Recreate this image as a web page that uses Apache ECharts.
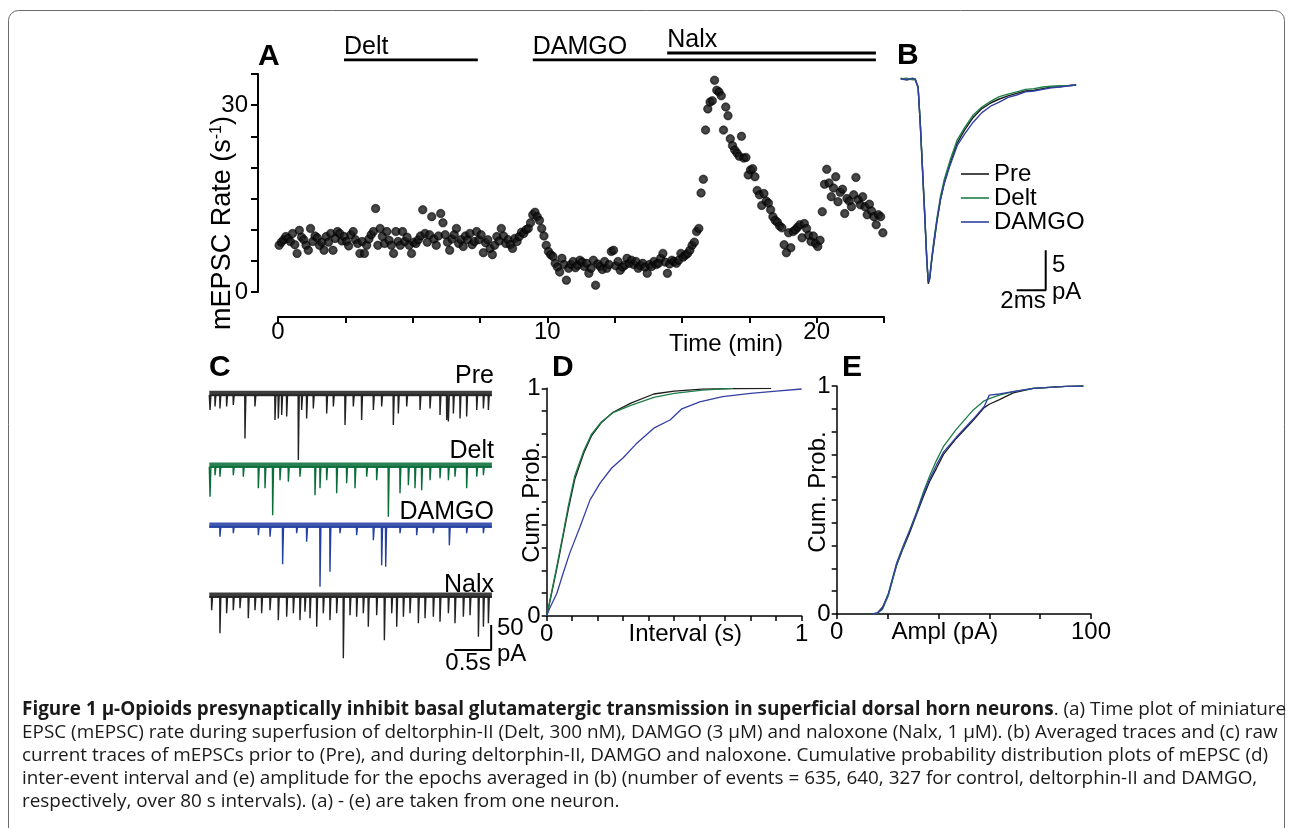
<!DOCTYPE html>
<html><head><meta charset="utf-8">
<script src="https://cdn.jsdelivr.net/npm/echarts@6/dist/echarts.min.js"></script>
<style>html,body{margin:0;padding:0;background:#fff}#c{width:1290px;height:828px}</style>
</head><body><div id="c"></div>
<script>
// ---------------- DATA ----------------
// Panel A: mEPSC rate (s^-1) in consecutive 5 s bins
const rateBinSeconds = 5;
const rates = [
 7.5,8.0,8.4,8.9,8.6,8.1,9.4,7.6,6.2,9.9,
 8.8,8.4,7.5,6.7,10.2,8.1,9.0,8.7,7.5,8.0,
 6.7,8.9,8.0,9.4,6.7,8.6,9.7,9.4,8.2,8.9,
 8.1,7.4,9.2,9.7,8.4,7.8,6.2,8.1,6.2,7.5,
 8.5,9.2,9.7,13.4,7.5,10.2,8.9,7.8,9.7,8.3,
 7.5,6.2,9.7,8.1,7.5,9.7,8.1,8.8,7.5,6.2,
 8.0,7.8,8.4,9.0,13.2,9.4,8.0,9.2,12.1,8.5,
 7.5,9.0,12.6,11.1,9.2,8.0,6.7,8.5,9.2,10.2,
 7.8,8.4,7.3,9.0,8.4,9.4,7.6,8.1,9.7,8.4,
 9.2,6.3,7.9,8.4,7.0,6.0,7.5,8.9,8.2,10.2,
 9.0,7.8,8.4,7.6,7.0,8.6,8.1,8.9,9.6,9.4,
 10.0,10.2,11.1,12.4,12.8,12.1,11.5,10.2,9.0,7.5,
 6.5,6.0,5.7,4.6,4.0,3.2,5.4,4.4,1.9,3.8,
 4.4,4.9,3.9,4.3,5.1,4.8,4.1,4.6,3.0,3.8,
 5.1,1.1,4.5,4.1,3.6,4.9,3.8,4.4,6.5,6.7,
 4.2,4.9,3.5,4.0,4.3,5.4,4.6,5.1,4.4,4.9,
 3.8,4.2,4.6,4.0,3.0,4.4,4.1,4.9,4.4,4.6,
 5.4,6.2,4.8,3.0,4.5,5.1,4.9,4.6,5.1,6.2,
 5.6,5.9,6.2,6.7,7.5,8.0,9.7,10.2,15.9,18.1,
 26.0,29.4,30.5,30.7,34.0,32.4,32.1,31.5,26.0,29.7,
 28.3,24.6,23.5,22.8,22.3,21.8,25.0,21.5,21.6,18.8,
 19.6,19.8,18.5,16.3,15.6,13.9,15.8,14.6,14.3,13.2,
 12.1,11.5,11.2,10.6,10.3,7.6,6.3,9.5,7.1,9.7,
 10.0,10.4,10.8,8.7,11.0,10.2,9.1,8.1,9.0,7.8,
 7.3,8.3,12.9,17.3,19.7,17.5,15.3,16.7,18.5,14.5,
 16.0,16.5,12.6,15.0,14.6,13.7,15.6,18.4,14.8,14.0,
 15.3,13.7,12.4,14.1,13.0,12.1,10.8,12.4,12.1,9.5
];
const drugNames = ['Delt', 'DAMGO', 'Nalx'];
const drugStartMin = [2.45, 9.46, 14.45];
const drugEndMin = [7.42, 22.2, 22.2];
const drugRow = [0, 0, 1];
const timeTickLabelsA = [0, 10, 20];
const rateTickLabelsA = [0, 30];

// Panel B: averaged mEPSC (ms, pA)
const avgTimeMs = [0,0.4,0.8,1.0,1.1,1.2,1.35,1.5,1.65,1.8,1.9,2.0,2.15,2.3,2.5,2.75,3.0,3.4,3.9,4.4,5.0,5.6,6.2,6.8,7.4,8.0,8.6,9.2,9.8,10.4,11.0,11.6,12.1];
const avgPre   = [0.1,-0.1,0.0,-0.1,-0.2,-1.0,-5.5,-11.0,-16.5,-22.5,-25.6,-25.0,-22.5,-20.5,-17.8,-15.0,-13.0,-10.6,-8.0,-6.4,-4.8,-3.7,-3.0,-2.5,-2.1,-1.8,-1.5,-1.4,-1.2,-1.0,-0.95,-0.85,-0.75];
const avgDelt  = [0.0,0.1,-0.1,0.0,-0.2,-1.0,-5.6,-11.2,-16.8,-22.6,-25.3,-24.8,-22.2,-20.0,-17.4,-14.6,-12.6,-10.2,-7.6,-6.1,-4.5,-3.5,-2.8,-2.2,-1.9,-1.6,-1.3,-1.2,-1.0,-0.9,-0.85,-0.8,-0.7];
const avgDamgo = [0.0,-0.1,0.1,0.0,-0.2,-1.1,-5.7,-11.3,-16.9,-22.7,-25.3,-24.9,-22.4,-20.3,-17.7,-15.0,-13.1,-10.8,-8.3,-6.9,-5.4,-4.2,-3.4,-2.9,-2.3,-2.0,-1.6,-1.5,-1.3,-1.1,-1.0,-0.85,-0.75];
const legendNames = ['Pre', 'Delt', 'DAMGO'];

// Panel C: raw traces, events (time s, amplitude pA)
const traceDurS = 3.85;
const cNames = ['Pre', 'Delt', 'DAMGO', 'Nalx'];
const preEvT = [0.01,0.078,0.145,0.236,0.327,0.486,0.622,0.895,0.94,0.986,1.054,1.213,1.258,1.326,1.417,1.599,1.69,1.849,1.962,2.075,2.235,2.348,2.507,2.575,2.689,2.871,3.007,3.143,3.234,3.257,3.325,3.416,3.506,3.643,3.734,3.802];
const preEvA = [30,23,27,23,20,87,23,50,47,40,43,130,30,47,27,37,23,60,23,50,30,23,60,37,23,30,27,40,50,53,37,47,43,30,27,30];
const deltEvT = [0.01,0.078,0.145,0.327,0.463,0.668,0.759,0.863,0.963,1.077,1.235,1.44,1.508,1.599,1.735,1.871,1.985,2.144,2.28,2.439,2.598,2.712,2.802,2.893,3.007,3.143,3.257,3.347,3.506,3.643,3.734];
const deltEvA = [60,17,20,17,20,43,43,97,27,30,20,57,43,27,53,33,43,20,27,100,53,37,43,47,27,23,27,20,43,20,17];
const damgoEvT = [0.145,0.327,0.668,0.827,0.999,1.19,1.326,1.508,1.644,1.78,2.007,2.235,2.348,2.403,2.598,2.825,3.052,3.27,3.506,3.734];
const damgoEvA = [20,13,17,20,75,13,30,120,90,13,17,27,77,80,13,17,13,37,13,13];
const nalxEvT = [0.032,0.145,0.236,0.327,0.418,0.531,0.622,0.713,0.827,0.94,1.054,1.145,1.235,1.303,1.372,1.463,1.553,1.644,1.735,1.826,1.917,2.007,2.098,2.166,2.28,2.385,2.485,2.553,2.644,2.734,2.848,2.939,3.052,3.143,3.257,3.347,3.461,3.552,3.666,3.734,3.802];
const nalxEvA = [27,73,33,27,23,43,27,33,27,47,40,33,47,30,43,60,33,47,33,123,37,40,33,60,37,87,33,60,40,33,53,43,40,50,33,53,40,37,80,60,53];

// Panel D: cumulative probability of inter-event interval (s)
const intPreX   = [0,0.01,0.04,0.065,0.085,0.11,0.145,0.175,0.215,0.26,0.33,0.42,0.5,0.61,0.73,0.88];
const intPreY   = [0,0.05,0.21,0.355,0.47,0.60,0.715,0.79,0.85,0.895,0.935,0.975,0.988,0.996,0.999,1.0];
const intDeltX  = [0,0.01,0.04,0.065,0.085,0.11,0.145,0.175,0.215,0.26,0.33,0.42,0.5,0.61,0.73];
const intDeltY  = [0,0.055,0.22,0.365,0.485,0.615,0.725,0.797,0.853,0.893,0.925,0.96,0.978,0.992,1.0];
const intDamgoX = [0,0.01,0.04,0.065,0.09,0.13,0.17,0.21,0.255,0.30,0.35,0.42,0.485,0.53,0.60,0.69,0.80,0.90,1.0];
const intDamgoY = [0,0.03,0.10,0.19,0.275,0.39,0.51,0.585,0.65,0.695,0.755,0.825,0.862,0.91,0.94,0.963,0.978,0.988,0.997];

// Panel E: cumulative probability of amplitude (pA)
const amplX     = [14,16,18,20.3,23.6,26.2,28.8,31.5,34.1,36.7,39.3,42,47,53.7,58,60,64,69.4,77.3,90,97];
const amplPre   = [0,0.005,0.03,0.085,0.215,0.29,0.36,0.44,0.515,0.585,0.64,0.70,0.77,0.85,0.905,0.92,0.94,0.97,0.99,0.998,1.0];
const amplDelt  = [0,0.003,0.02,0.08,0.22,0.295,0.37,0.45,0.535,0.61,0.675,0.735,0.81,0.895,0.935,0.945,0.96,0.975,0.99,0.998,1.0];
const amplDamgo = [0,0.004,0.025,0.09,0.225,0.30,0.37,0.445,0.525,0.595,0.655,0.71,0.775,0.855,0.91,0.96,0.965,0.975,0.99,0.998,1.0];

// Caption
const captionBold = 'Figure 1 μ-Opioids presynaptically inhibit basal glutamatergic transmission in superficial dorsal horn neurons';
const captionLines = [
 '. (a) Time plot of miniature',
 'EPSC (mEPSC) rate during superfusion of deltorphin-II (Delt, 300 nM), DAMGO (3 μM) and naloxone (Nalx, 1 μM). (b) Averaged traces and (c) raw',
 'current traces of mEPSCs prior to (Pre), and during deltorphin-II, DAMGO and naloxone. Cumulative probability distribution plots of mEPSC (d)',
 'inter-event interval and (e) amplitude for the epochs averaged in (b) (number of events = 635, 640, 327 for control, deltorphin-II and DAMGO,',
 'respectively, over 80 s intervals). (a) - (e) are taken from one neuron.'
];

// ---------------- STYLE / BUILD ----------------
const FONT = '"Liberation Sans", Arial, Helvetica, sans-serif';
const CAPFONT = '"Open Sans", "Noto Sans", sans-serif';
const BLACK = '#1c1c1c', GREEN = '#1e7f47', BLUE = '#3340a2';
const cColors = ['#222', '#0b6e3a', '#2440a0', '#222'];

const pairs = (xs, ys) => xs.map((x, i) => [x, ys[i]]);
const timeMinA = rates.map((_, i) => (i + 0.5) * rateBinSeconds / 60);

function spikeTrace(evT, evA, dur) {
  const pts = [[0, 0]];
  evT.forEach((t, i) => { pts.push([t - 0.003, 0], [t, -evA[i]], [t + 0.012, 0]); });
  pts.push([dur, 0]);
  return pts;
}

const txt = (size, extra) => Object.assign({fontSize: size, fontFamily: FONT, color: '#000'}, extra || {});

function visAxis(o) {
  const lw = o.lw || 1.5;
  return Object.assign({
    type: 'value', gridIndex: o.grid, min: o.min, max: o.max, interval: o.interval,
    nameMoveOverlap: false,
    axisLine: {show: true, onZero: false, lineStyle: {color: '#000', width: lw}},
    axisTick: {show: true, length: o.tick || 5, inside: false, lineStyle: {color: '#000', width: lw}},
    axisLabel: Object.assign({show: true, margin: o.margin == null ? 5 : o.margin,
      formatter: v => (o.labels.some(l => Math.abs(l - v) < 1e-9) ? String(v) : '')}, txt(24)),
    splitLine: {show: false}
  }, o.extra || {});
}
const hidAxis = (grid, min, max) => ({type: 'value', gridIndex: grid, min, max, show: false, splitLine: {show: false}});

const grids = [
  {left: 278, top: 74, width: 606, height: 218},      // 0 A
  {left: 278, top: 46, width: 606, height: 14},       // 1 A drug bars
  {left: 900.7, top: 71, width: 188.5, height: 232},  // 2 B
  {left: 209.3, top: 385, width: 282.6, height: 140}, // 3 C Pre
  {left: 209.3, top: 456.7, width: 282.6, height: 140},// 4 C Delt
  {left: 209.3, top: 516.7, width: 282.6, height: 140},// 5 C DAMGO
  {left: 209.3, top: 586.7, width: 282.6, height: 140},// 6 C Nalx
  {left: 546.7, top: 388.3, width: 255, height: 227.7},// 7 D
  {left: 836.7, top: 386, width: 254.3, height: 228}   // 8 E
].map(g => Object.assign({outerBoundsMode: 'none', containLabel: false}, g));

const xAxes = [
  visAxis({grid: 0, min: 0, max: 22.5, interval: 2.5, labels: timeTickLabelsA, lw: 2, tick: 6, margin: 3, extra: {offset: 25}}),
  hidAxis(1, 0, 22.5),
  hidAxis(2, 0, 13),
  hidAxis(3, 0, traceDurS), hidAxis(4, 0, traceDurS), hidAxis(5, 0, traceDurS), hidAxis(6, 0, traceDurS),
  visAxis({grid: 7, min: 0, max: 1, interval: 0.1, labels: [0, 1], margin: 6, extra: {
    name: 'Interval (s)', nameLocation: 'middle', nameGap: 6,
    nameTextStyle: txt(24, {verticalAlign: 'top', padding: [0, 0, 0, 22]})}}),
  visAxis({grid: 8, min: 0, max: 100, interval: 20, labels: [0, 100], margin: 6, extra: {
    name: 'Ampl (pA)', nameLocation: 'middle', nameGap: 6,
    nameTextStyle: txt(24, {verticalAlign: 'top', padding: [0, 38, 0, 0]})}})
];
const yAxes = [
  visAxis({grid: 0, min: 0, max: 35, interval: 5, labels: rateTickLabelsA, lw: 2, tick: 7, margin: 10, extra: {
    offset: 20, name: '{a|mEPSC Rate (s}{s|-1}{a|)}', nameLocation: 'middle', nameGap: 22, nameRotate: 90,
    nameTextStyle: txt(27, {padding: [0, 80, 0, 0], rich: {a: txt(27), s: txt(16, {verticalAlign: 'top'})}})}}),
  hidAxis(1, 0, 2),
  hidAxis(2, -28, 1),
  hidAxis(3, -260, 20), hidAxis(4, -260, 20), hidAxis(5, -260, 20), hidAxis(6, -260, 20),
  visAxis({grid: 7, min: 0, max: 1, interval: 0.1, labels: [0, 1], margin: 6, extra: {
    name: 'Cum. Prob.', nameLocation: 'middle', nameGap: 2, nameRotate: 90, nameTextStyle: txt(24)}}),
  visAxis({grid: 8, min: 0, max: 1, interval: 0.1, labels: [0, 1], margin: 6, extra: {
    name: 'Cum. Prob.', nameLocation: 'middle', nameGap: 6, nameRotate: 90, nameTextStyle: txt(24, {padding: [0, 0, 0, 16]})}})
];

const series = [];
// A scatter
series.push({
  type: 'scatter', xAxisIndex: 0, yAxisIndex: 0, symbolSize: 8.5,
  data: rates.map((v, i) => [timeMinA[i], v]),
  itemStyle: {color: new echarts.graphic.RadialGradient(0.5, 0.5, 0.5, [{offset: 0, color: '#262626'}, {offset: 1, color: '#000'}]), borderColor: '#000', borderWidth: 0.6}
});
// A drug bars
drugNames.forEach((n, k) => {
  series.push({
    type: 'line', name: 'bar-' + n, xAxisIndex: 1, yAxisIndex: 1, symbol: 'circle', symbolSize: 0, showSymbol: true,
    itemStyle: {color: 'rgba(0,0,0,0)'}, lineStyle: {color: '#000', width: 3},
    label: {show: false},
    data: [{value: [drugStartMin[k], drugRow[k]], label: Object.assign({show: true, position: [0, -25], align: 'left', verticalAlign: 'top', formatter: n}, txt(25))},
           [drugEndMin[k], drugRow[k]]]
  });
});
// B averaged traces
[[avgPre, BLACK], [avgDelt, GREEN], [avgDamgo, BLUE]].forEach(([arr, col], k) => {
  series.push({type: 'line', name: legendNames[k], xAxisIndex: 2, yAxisIndex: 2, symbol: 'none',
    lineStyle: {color: col, width: 1.4}, itemStyle: {color: col}, data: pairs(avgTimeMs, arr)});
});
series.push({type: 'line', name: 'scaleB', xAxisIndex: 2, yAxisIndex: 2, symbol: 'none',
  lineStyle: {color: '#000', width: 2}, data: [[8.0, -26.4], [10.0, -26.4], [10.0, -21.4]]});
// C raw traces
[[preEvT, preEvA], [deltEvT, deltEvA], [damgoEvT, damgoEvA], [nalxEvT, nalxEvA]].forEach(([t, a], k) => {
  series.push({type: 'line', name: 'band-' + k, xAxisIndex: 3 + k, yAxisIndex: 3 + k, symbol: 'none',
    lineStyle: {color: cColors[k], width: 5.5, opacity: 0.88}, data: [[0, 3], [traceDurS, 3]]});
  series.push({type: 'line', name: 'trace-' + k, xAxisIndex: 3 + k, yAxisIndex: 3 + k, symbol: 'none',
    lineStyle: {color: cColors[k], width: 1.4}, data: spikeTrace(t, a, traceDurS)});
});
series.push({type: 'line', name: 'scaleC', xAxisIndex: 6, yAxisIndex: 6, symbol: 'none',
  lineStyle: {color: '#000', width: 2}, data: [[3.34, -106.6], [3.84, -106.6], [3.84, -56.6]]});
// D
[[intPreX, intPreY, BLACK], [intDeltX, intDeltY, GREEN], [intDamgoX, intDamgoY, BLUE]].forEach(([x, y, c]) => {
  series.push({type: 'line', xAxisIndex: 7, yAxisIndex: 7, symbol: 'none', lineStyle: {color: c, width: 1.3}, data: pairs(x, y)});
});
// E
[[amplPre, BLACK], [amplDelt, GREEN], [amplDamgo, BLUE]].forEach(([y, c]) => {
  series.push({type: 'line', xAxisIndex: 8, yAxisIndex: 8, symbol: 'none', lineStyle: {color: c, width: 1.3}, data: pairs(amplX, y)});
});

// caption font size fitted so that line 2 spans the text block
const ctx = document.createElement('canvas').getContext('2d');
ctx.font = '100px "Open Sans"';
const capSize = Math.min(19, Math.max(14, 100 * 1256 / ctx.measureText(captionLines[1]).width));

function gtext(text, x, y, size, opts) {
  opts = opts || {};
  return {type: 'text', silent: true, style: Object.assign({
    text, x, y, fontSize: size, fontFamily: opts.family || FONT, fontWeight: opts.weight || 'normal', fill: '#000',
    align: opts.align || 'left', verticalAlign: 'middle', textAlign: opts.align || 'left', textVerticalAlign: 'middle'
  }, opts.style || {})};
}

const graphics = [
  {type: 'rect', silent: true, shape: {x: 8.5, y: 10.5, width: 1276, height: 900, r: 10}, style: {fill: 'none', stroke: '#6b6b6b', lineWidth: 1}},
  gtext('A', 258, 57, 30, {weight: 'bold'}),
  gtext('B', 897, 56, 30, {weight: 'bold'}),
  gtext('C', 209, 368, 30, {weight: 'bold'}),
  gtext('D', 552, 368, 30, {weight: 'bold'}),
  gtext('E', 842, 368, 30, {weight: 'bold'}),
  gtext('Time (min)', 726, 344, 24, {align: 'center'}),
  gtext(cNames[0], 494, 376, 25, {align: 'right'}),
  gtext(cNames[1], 494, 451, 25, {align: 'right'}),
  gtext(cNames[2], 494, 512, 25, {align: 'right'}),
  gtext(cNames[3], 494, 585, 25, {align: 'right'}),
  gtext('50', 497, 628, 24), gtext('pA', 497, 654, 24), gtext('0.5s', 468, 663, 24, {align: 'center'}),
  gtext('5', 1052, 265, 24), gtext('pA', 1052, 292, 24), gtext('2ms', 1023, 301, 24, {align: 'center'})
];
const capY = [710, 733, 756, 779, 802];
captionLines.forEach((line, i) => {
  if (i === 0) {
    graphics.push({type: 'text', silent: true, style: {
      text: '{b|' + captionBold + '}{r|' + line + '}', x: 22, y: capY[i], verticalAlign: 'middle', textVerticalAlign: 'middle',
      fontSize: capSize, fontFamily: CAPFONT, fill: '#1a1a1a',
      rich: {b: {fontSize: capSize, fontFamily: CAPFONT, fontWeight: 'bold', fill: '#1a1a1a'},
             r: {fontSize: capSize, fontFamily: CAPFONT, fill: '#1a1a1a'}}}});
  } else {
    graphics.push(gtext(line, 22, capY[i], capSize, {family: CAPFONT, style: {fill: '#1a1a1a'}}));
  }
});

const chart = echarts.init(document.getElementById('c'), null, {renderer: 'canvas'});
chart.setOption({
  animation: false, backgroundColor: '#fff',
  textStyle: {fontFamily: FONT},
  grid: grids, xAxis: xAxes, yAxis: yAxes, series,
  legend: {data: legendNames, orient: 'vertical', left: 961, top: 162, padding: 0, itemGap: 0,
    itemWidth: 28, itemHeight: 14, selectedMode: false, icon: 'path://M0,7L28,7L28,8.6L0,8.6Z',
    textStyle: txt(24, {lineHeight: 22.5})},
  graphic: graphics
});
</script></body></html>
